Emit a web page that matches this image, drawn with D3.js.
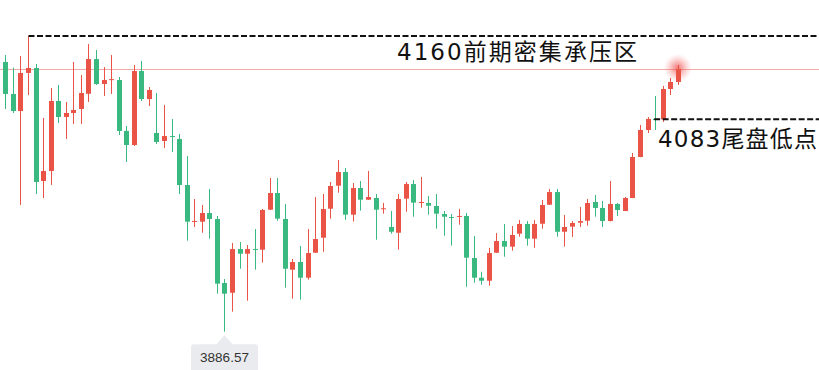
<!DOCTYPE html>
<html><head><meta charset="utf-8">
<script src="https://cdn.jsdelivr.net/npm/d3@7"></script>
<style>html,body{margin:0;padding:0;background:#fff;}svg{display:block;}</style>
</head><body>
<svg id="chart" width="819" height="370"></svg>
<script>
// candle values (price points)
const opens = [4136.0,4106.4,4090.6,4125.8,4130.4,4025.9,4035.2,4099.9,4085.1,4088.8,
  4092.5,4106.6,4138.7,4115.6,4119.6,4119.3,4072.2,4059.2,4127.6,4101.7,
  4070.3,4062.9,4067.5,4064.8,4022.2,3988.0,3988.3,3996.3,3990.8,3931.6,
  3922.6,3963.0,3958.7,3963.0,3962.4,3999.4,4014.8,3990.8,3943.9,3951.0,
  3936.5,3959.6,3973.5,4000.3,4021.6,4034.2,3994.8,4019.4,4008.6,4010.2,
  4000.0,3983.4,3978.1,4009.6,4023.1,4005.6,4005.6,4002.8,3995.4,3992.6,
  3992.9,3993.6,3954.7,3936.5,3933.7,3959.6,3970.4,3965.2,3977.2,3986.2,
  3972.6,3986.4,4004.0,4015.7,3979.0,3983.7,3987.4,3989.2,4006.5,4001.0,
  3988.9,4004.7,3998.2,4010.2,4048.1,4073.1,4083.3,4083.0,4111.0,4117.5];
const closes = [4106.4,4090.6,4125.8,4130.4,4025.0,4035.2,4099.9,4085.1,4088.8,4091.6,
  4107.3,4138.7,4115.6,4119.3,4120.1,4072.2,4059.2,4127.6,4101.7,4110.1,
  4062.0,4067.5,4067.0,4022.2,3988.3,3988.9,3996.3,3990.8,3931.0,3921.7,
  3963.0,3958.7,3963.0,3962.5,3999.1,4014.8,3991.1,3944.8,3951.0,3936.5,
  3959.3,3972.3,4000.0,4021.3,4034.2,3994.8,4019.4,4008.6,4011.1,3999.4,
  4000.7,3979.0,4009.3,4023.1,4005.9,4006.5,4003.1,3995.7,3992.9,3992.0,
  3993.6,3955.0,3936.5,3933.7,3959.3,3970.4,3965.2,3976.0,3986.2,3972.6,
  3986.2,4003.7,4015.7,3979.0,3983.4,3987.1,3988.9,4005.6,4001.0,3988.9,
  4004.7,3999.1,4010.2,4048.1,4073.1,4083.3,4083.0,4111.0,4117.5,4129.5];
const highs = [4142.4,4130.7,4141.5,4160.0,4134.1,4084.2,4111.9,4114.7,4099.0,4136.0,
  4123.9,4152.6,4147.1,4131.3,4142.4,4122.1,4076.8,4133.2,4136.9,4112.8,
  4107.3,4096.2,4083.3,4069.4,4049.0,4009.3,4003.7,4018.5,3993.6,3935.3,
  3968.6,3969.5,3966.7,3981.5,4000.0,4028.7,4028.7,4004.7,3953.8,3965.8,
  3981.5,4011.1,4013.9,4025.0,4045.3,4037.9,4024.1,4025.9,4035.2,4013.9,
  4005.6,3998.2,4013.9,4025.0,4026.8,4029.6,4012.0,4013.9,3998.2,3995.4,
  4000.0,3996.3,3975.1,3942.0,3964.0,3977.8,3986.2,3984.3,3989.9,3988.9,
  3989.9,4008.3,4018.5,4018.5,3994.5,3988.9,4001.9,4009.3,4013.0,4007.4,
  4025.9,4005.6,4011.1,4051.8,4077.7,4085.1,4104.5,4113.8,4121.2,4133.2];
const lows = [4092.5,4088.8,4003.7,4105.4,4013.9,4010.2,4022.2,4079.6,4064.8,4078.6,
  4078.6,4099.0,4114.7,4104.5,4106.4,4068.5,4043.5,4058.3,4099.9,4095.3,
  4060.1,4056.4,4052.7,4013.9,3970.7,3983.4,3978.1,3972.6,3921.7,3886.57,
  3905.1,3944.8,3915.2,3943.9,3950.4,3999.0,3989.2,3927.3,3917.1,3916.2,
  3934.7,3959.4,3960.5,3991.1,4015.1,3990.1,3988.3,3998.5,4008.4,3971.6,
  3995.7,3977.2,3962.4,3997.5,3992.9,4001.2,3994.8,3981.8,3975.3,3966.1,
  3985.5,3928.2,3931.9,3930.0,3929.1,3959.4,3955.9,3961.5,3974.4,3966.1,
  3964.2,3981.8,4003.8,3974.4,3965.2,3974.1,3983.4,3984.6,3992.9,3983.4,
  3988.6,3993.6,3998.0,4010.0,4047.9,4070.3,4073.1,4080.5,4105.4,4114.7];
const candleIndex = d3.range(opens.length);

// annotations
const pressureLevel = 4160;
const pressureLabel = "4160前期密集承压区";
const pressureStart = 3;          // candle where the level starts
const tailLowLevel = 4083;
const tailLowLabel = "4083尾盘低点";
const tailLowStart = 86;
const minLabel = "3886.57";

const W = 819, H = 370;
const svg = d3.select("#chart");
const x = d3.scaleLinear().domain([0, opens.length - 1]).range([5.3, 677.8]);
const y = d3.scaleLinear().domain([3886.57, 4160]).range([331.7, 36]);
const RED = "#ea5446", GREEN = "#39b980";
const bodyW = 5;

// last price line
const last = closes[closes.length - 1];
svg.append("line").attr("x1", 0).attr("x2", W)
  .attr("y1", Math.round(y(last)) + 0.5).attr("y2", Math.round(y(last)) + 0.5)
  .attr("stroke", "#efaaa6").attr("stroke-width", 1);

// glow at last candle
const defs = svg.append("defs");
const rg = defs.append("radialGradient").attr("id", "glow");
rg.append("stop").attr("offset", "0%").attr("stop-color", "#f04848").attr("stop-opacity", 0.75);
rg.append("stop").attr("offset", "55%").attr("stop-color", "#f25a5a").attr("stop-opacity", 0.3);
rg.append("stop").attr("offset", "100%").attr("stop-color", "#f48080").attr("stop-opacity", 0);
svg.append("circle").attr("cx", x(opens.length - 1)).attr("cy", y(last) - 1)
  .attr("r", 14).attr("fill", "url(#glow)");

// candles
const g = svg.append("g");
const cs = g.selectAll("g.c").data(candleIndex).join("g").attr("class", "c");
cs.append("line")
  .attr("x1", i => Math.round(x(i)) + 0.5).attr("x2", i => Math.round(x(i)) + 0.5)
  .attr("y1", i => y(highs[i])).attr("y2", i => y(lows[i]))
  .attr("stroke", i => closes[i] >= opens[i] ? RED : GREEN).attr("stroke-width", 1);
cs.append("rect")
  .attr("x", i => Math.round(x(i)) + 0.5 - bodyW / 2)
  .attr("width", bodyW)
  .attr("y", i => y(Math.max(opens[i], closes[i])))
  .attr("height", i => Math.max(1, Math.abs(y(opens[i]) - y(closes[i]))))
  .attr("fill", i => closes[i] >= opens[i] ? RED : GREEN);

// dashed levels
svg.append("line").attr("x1", Math.round(x(pressureStart)) + 0.5).attr("x2", W)
  .attr("y1", y(pressureLevel)).attr("y2", y(pressureLevel))
  .attr("stroke", "#111").attr("stroke-width", 2).attr("stroke-dasharray", "6,2.5");
svg.append("line").attr("x1", x(tailLowStart) - 1).attr("x2", W)
  .attr("y1", y(tailLowLevel)).attr("y2", y(tailLowLevel))
  .attr("stroke", "#111").attr("stroke-width", 2).attr("stroke-dasharray", "6,2.5");

const fontFam = "'DejaVu Sans','Noto Sans CJK SC',sans-serif";
svg.append("text").attr("x", 397).attr("y", 60)
  .attr("font-family", fontFam).attr("font-size", 23).attr("fill", "#111")
  .attr("textLength", 240).attr("lengthAdjust", "spacing")
  .text(pressureLabel);
svg.append("text").attr("x", 658).attr("y", 147)
  .attr("font-family", fontFam).attr("font-size", 23).attr("fill", "#111")
  .attr("textLength", 159).attr("lengthAdjust", "spacing")
  .text(tailLowLabel);

// min marker
const minIdx = d3.minIndex(lows);
const mx = Math.round(x(minIdx)) + 0.5, my = y(lows[minIdx]);
const tipTop = my + 3.5, boxTop = tipTop + 9;
svg.append("rect").attr("x", mx - 33.5).attr("y", boxTop).attr("width", 67).attr("height", 30)
  .attr("rx", 3).attr("fill", "#e9ebee");
svg.append("path")
  .attr("d", `M${mx - 8.5},${boxTop + 0.5}L${mx},${tipTop}L${mx + 8.5},${boxTop + 0.5}Z`)
  .attr("fill", "#e9ebee");
svg.append("text").attr("x", mx).attr("y", boxTop + 18).attr("text-anchor", "middle")
  .attr("font-family", "'Liberation Sans',Arial,sans-serif").attr("font-size", 13.5).attr("fill", "#333")
  .text(minLabel);
</script>
</body></html>
